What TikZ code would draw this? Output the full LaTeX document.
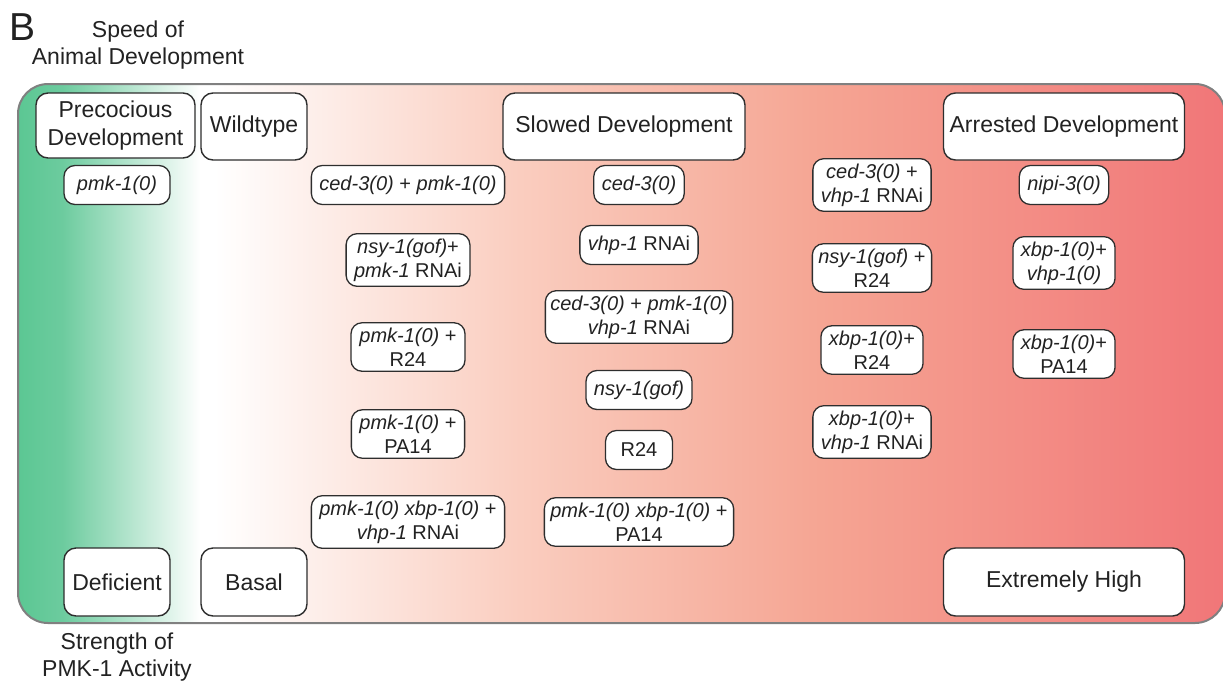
\documentclass[tikz,border=0pt]{standalone}
\usepackage{fontspec}
\setmainfont{Liberation Sans}
\definecolor{grnA}{HTML}{5BC793}
\definecolor{grnB}{HTML}{6CCB9E}
\definecolor{pchA}{HTML}{FACDBF}
\definecolor{pchB}{HTML}{F5A593}
\definecolor{redA}{HTML}{F17678}
\definecolor{boxline}{HTML}{2E2E2E}
\definecolor{inktext}{HTML}{222222}
\tikzset{
  big/.style={draw=boxline, fill=white, rounded corners=12pt, line width=1.4pt,
    text=inktext, font=\fontsize{23}{28}\selectfont, align=center, inner sep=0pt},
  tag/.style={draw=boxline, fill=white, rounded corners=11pt, line width=1.3pt,
    text=inktext, font=\fontsize{20}{24}\selectfont, align=center,
    inner xsep=8pt, inner ysep=5pt, minimum height=39pt},
  axis/.style={text=inktext, font=\fontsize{23}{27}\selectfont, align=center}
}
\begin{document}
\begin{tikzpicture}[x=1pt,y=-1pt]
\useasboundingbox (0,0) rectangle (1223,686);
% background scale
\begin{scope}
  \clip[rounded corners=30pt] (18,84) rectangle (1225,623);
  \shade[left color=grnA, right color=grnB] (17,83) rectangle (62,624);
  \shade[left color=grnB, right color=white] (62,83) rectangle (200,624);
  \fill[white] (200,83) rectangle (214,624);
  \shade[left color=white, right color=pchA] (214,83) rectangle (520,624);
  \shade[left color=pchA, right color=pchB] (520,83) rectangle (820,624);
  \shade[left color=pchB, right color=redA] (820,83) rectangle (1226,624);
\end{scope}
\draw[draw=gray, line width=2pt, rounded corners=30pt] (18,84) rectangle (1225,623);

\node[text=inktext, font=\fontsize{39}{39}\selectfont] (panel) at (23,27) {B};
\node[axis] (speed) at (138,45) {Speed of\\Animal Development};
\node[axis] (strength) at (117,657) {Strength of\\PMK-1 Activity};

% headings
\node[big, minimum width=159pt, minimum height=65pt] (preco) at (115.5,125.5) {Precocious\\Development};
\node[big, minimum width=106pt, minimum height=67pt] (wild) at (254,126.5) {Wildtype};
\node[big, minimum width=242pt, minimum height=67pt] (slow) at (624,126.5) {Slowed Development};
\node[big, minimum width=241pt, minimum height=67pt] (arrest) at (1064,126.5) {Arrested Development};
\node[big, minimum width=106pt, minimum height=68pt] (defic) at (117,582) {Deficient};
\node[big, minimum width=106pt, minimum height=68pt] (basal) at (254,582) {Basal};
\node[big, minimum width=241pt, minimum height=68pt] (xhigh) at (1064,582) {Extremely High};

% precocious
\node[tag, minimum width=106pt] (pmk) at (117,185) {\textit{pmk-1(0)}};

% wildtype-like
\node[tag] (cedpmk) at (408,185) {\textit{ced-3(0)} + \textit{pmk-1(0)}};
\node[tag] (nsypmk) at (408,260) {\textit{nsy-1(gof)}+\\\textit{pmk-1} RNAi};
\node[tag, minimum width=114pt] (pmkR) at (408,347) {\textit{pmk-1(0)} +\\R24};
\node[tag, minimum width=112pt] (pmkP) at (408,434) {\textit{pmk-1(0)} +\\PA14};
\node[tag] (pmkxbpV) at (408,522) {\textit{pmk-1(0) xbp-1(0)} +\\\textit{vhp-1} RNAi};

% slowed
\node[tag] (ced) at (639,185) {\textit{ced-3(0)}};
\node[tag] (vhp) at (639,245) {\textit{vhp-1} RNAi};
\node[tag, inner xsep=5pt] (cedpmkV) at (639,317) {\textit{ced-3(0)} + \textit{pmk-1(0)}\\\textit{vhp-1} RNAi};
\node[tag] (nsy) at (639,390) {\textit{nsy-1(gof)}};
\node[tag, minimum width=67pt] (rtf) at (639,450) {R24};
\node[tag, inner xsep=6pt] (pmkxbpP) at (639,522) {\textit{pmk-1(0) xbp-1(0)} +\\PA14};

% between slowed and arrested
\node[tag] (cedV) at (872,185) {\textit{ced-3(0)} +\\\textit{vhp-1} RNAi};
\node[tag, inner xsep=6pt] (nsyR) at (872,268) {\textit{nsy-1(gof)} +\\R24};
\node[tag, minimum width=100pt] (xbpR) at (872,350) {\textit{xbp-1(0)}+\\R24};
\node[tag] (xbpV) at (872,432) {\textit{xbp-1(0)}+\\\textit{vhp-1} RNAi};

% arrested
\node[tag] (nipi) at (1064,185) {\textit{nipi-3(0)}};
\node[tag, minimum width=101pt] (xbpvhp) at (1064,263) {\textit{xbp-1(0)}+\\\textit{vhp-1(0)}};
\node[tag, minimum width=101pt] (xbpP) at (1064,354) {\textit{xbp-1(0)}+\\PA14};
\end{tikzpicture}
\end{document}
